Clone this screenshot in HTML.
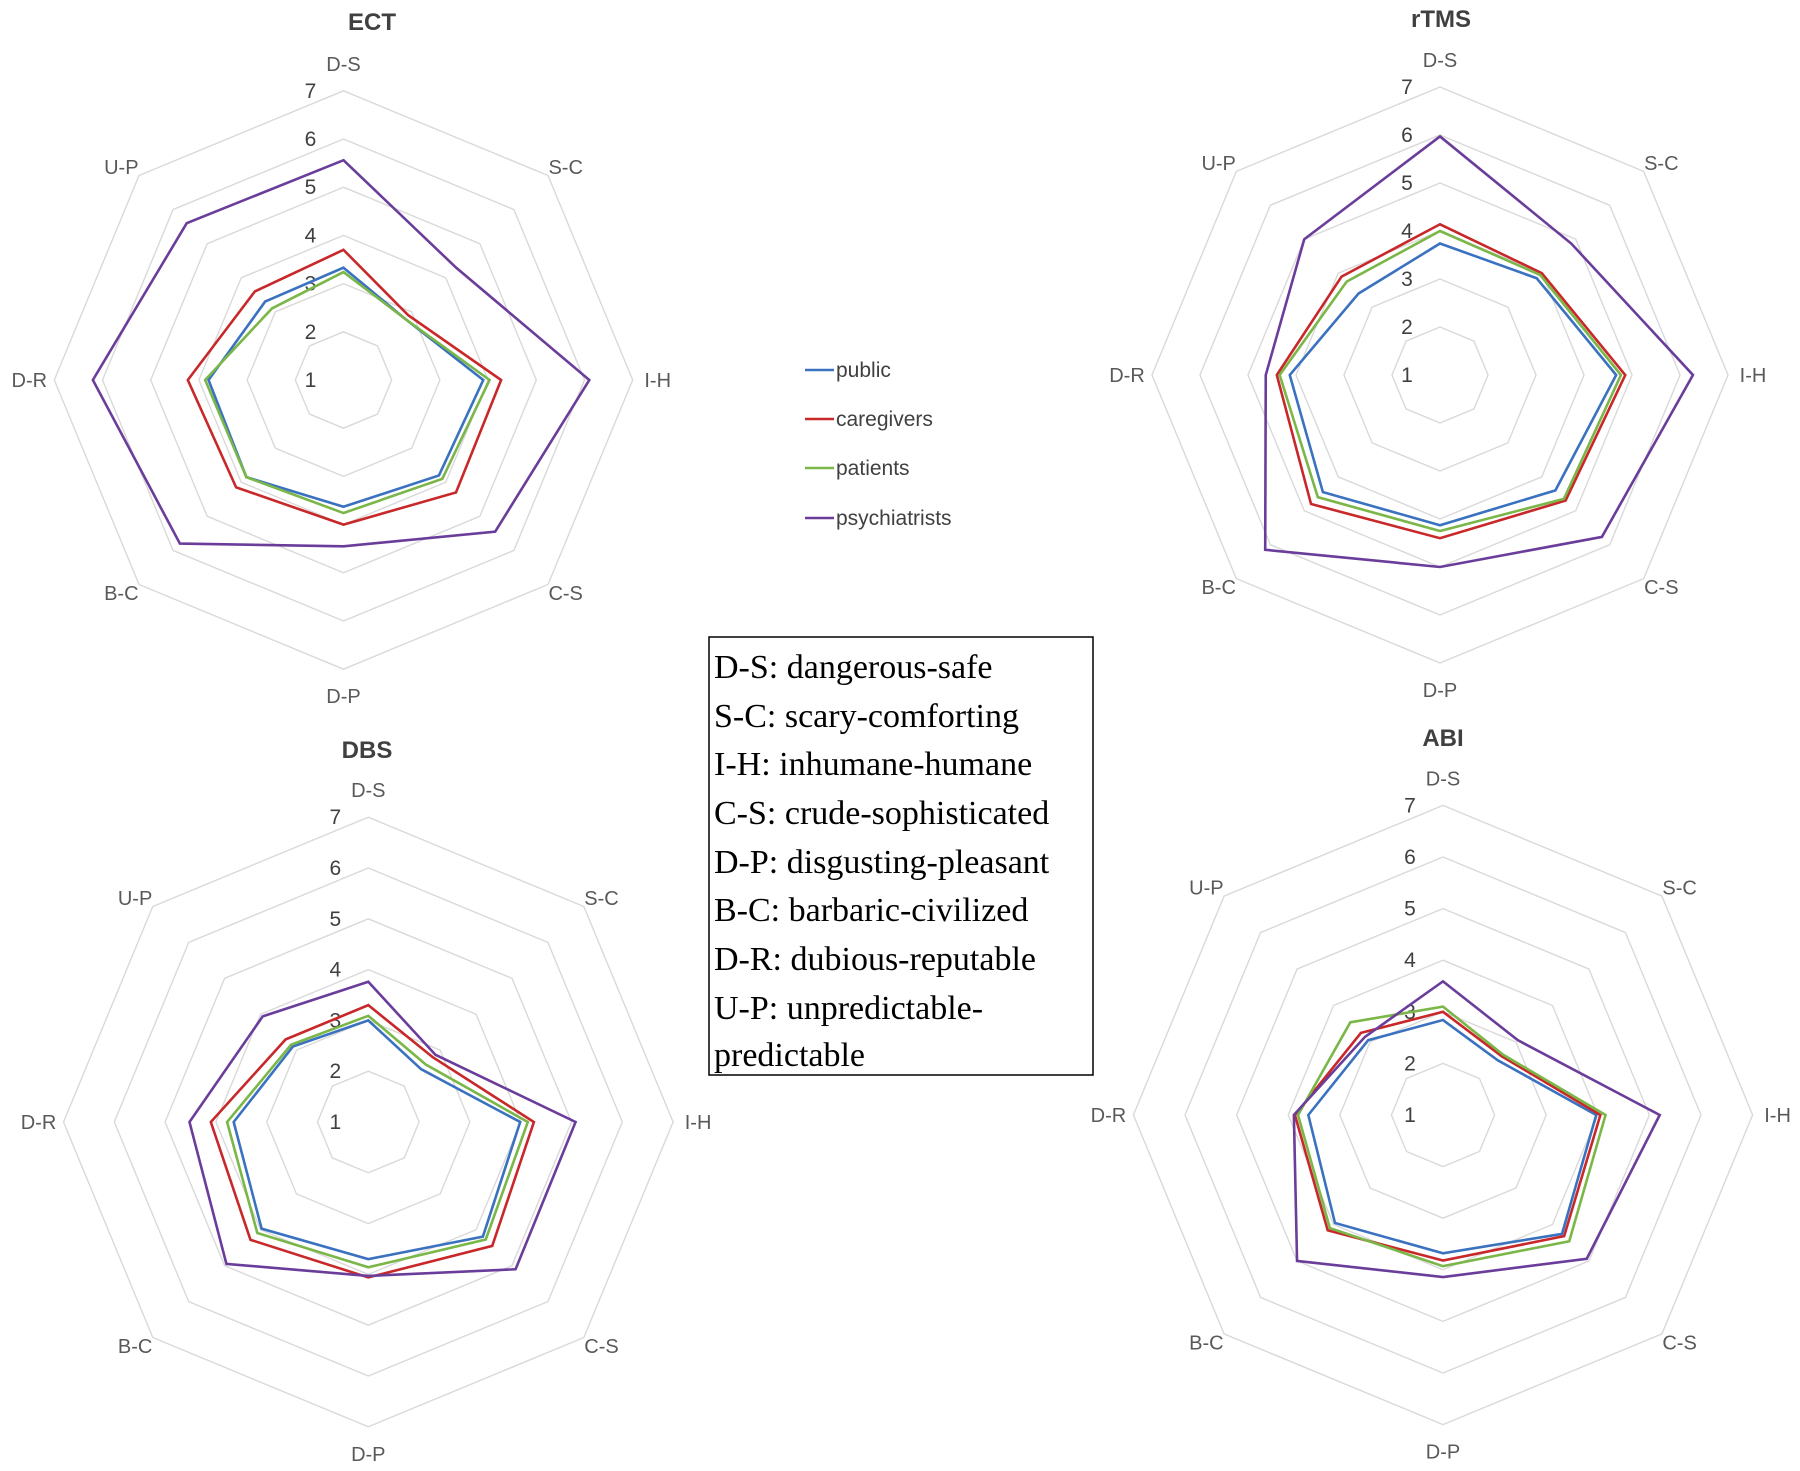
<!DOCTYPE html>
<html><head><meta charset="utf-8">
<style>
html,body{margin:0;padding:0;background:#fff;}
body{width:1800px;height:1471px;overflow:hidden;position:relative;font-family:"Liberation Sans",sans-serif;}
svg{position:absolute;left:0;top:0;}
</style></head>
<body>
<svg id="chart" width="1800" height="1471" viewBox="0 0 1800 1471" xmlns="http://www.w3.org/2000/svg">
  <g id="legend"></g>
  <g>
    <rect x="709" y="637" width="384" height="438" fill="#fff" stroke="#000" stroke-width="1.5"/>
    <g font-family="'Liberation Serif',serif" font-size="34" fill="#000">
      <text x="714" y="678">D-S: dangerous-safe</text>
      <text x="714" y="727">S-C: scary-comforting</text>
      <text x="714" y="775">I-H: inhumane-humane</text>
      <text x="714" y="824">C-S: crude-sophisticated</text>
      <text x="714" y="873">D-P: disgusting-pleasant</text>
      <text x="714" y="921">B-C: barbaric-civilized</text>
      <text x="714" y="970">D-R: dubious-reputable</text>
      <text x="714" y="1019">U-P: unpredictable-</text>
      <text x="714" y="1066">predictable</text>
    </g>
  </g>
</svg>
<script>
const axes = ["D-S","S-C","I-H","C-S","D-P","B-C","D-R","U-P"];
const tickLabels = ["1","2","3","4","5","6","7"];
const seriesNames = ["public","caregivers","patients","psychiatrists"];
const chartTitles = ["ECT","rTMS","DBS","ABI"];
// values per chart, per series (public, caregivers, patients, psychiatrists)
const ectPublic = [3.33,2.8,3.9,3.8,3.63,3.85,3.8,3.3];
const ectCaregivers = [3.7,2.9,4.27,4.3,4.0,4.15,4.23,3.6];
const ectPatients = [3.24,2.8,4.03,3.9,3.76,3.85,3.87,3.1];
const ectPsychiatrists = [5.56,4.3,6.1,5.45,4.45,5.8,6.2,5.6];
const rtmsPublic = [3.74,3.85,4.67,4.4,4.13,4.45,4.13,3.4];
const rtmsCaregivers = [4.14,4.0,4.86,4.7,4.4,4.8,4.4,3.9];
const rtmsPatients = [4.0,3.95,4.77,4.65,4.25,4.6,4.34,3.75];
const rtmsPsychiatrists = [5.97,4.87,6.27,5.77,5.0,6.15,4.63,5.0];
const dbsPublic = [3.0,2.47,3.99,4.19,3.7,3.97,3.65,3.1];
const dbsCaregivers = [3.3,2.8,4.26,4.45,4.06,4.28,4.1,3.3];
const dbsPatients = [3.09,2.6,4.14,4.27,3.86,4.09,3.78,3.15];
const dbsPsychiatrists = [3.76,2.87,5.08,5.1,4.03,4.95,4.52,3.94];
const abiPublic = [2.84,2.5,3.97,4.26,3.68,3.96,3.61,3.05];
const abiCaregivers = [3.0,2.61,4.05,4.32,3.82,4.16,3.87,3.25];
const abiPatients = [3.1,2.65,4.15,4.46,3.93,4.1,3.81,3.54];
const abiPsychiatrists = [3.59,3.05,5.2,4.94,4.14,5.0,3.89,3.14];

const allData = [
  [ectPublic,ectCaregivers,ectPatients,ectPsychiatrists],
  [rtmsPublic,rtmsCaregivers,rtmsPatients,rtmsPsychiatrists],
  [dbsPublic,dbsCaregivers,dbsPatients,dbsPsychiatrists],
  [abiPublic,abiCaregivers,abiPatients,abiPsychiatrists]
];
const layout = [
  {cx:343.5,cy:380,unit:48.2,tx:372,ty:30},
  {cx:1440,cy:375,unit:48,tx:1441,ty:27},
  {cx:368.3,cy:1122,unit:50.8,tx:367,ty:758},
  {cx:1443,cy:1115,unit:51.6,tx:1443,ty:746}
];
const colors = ["#3a72c0","#c8282a","#7ab648","#6a3d9a"];
const NS = "http://www.w3.org/2000/svg";
const svg = document.getElementById("chart");
function mk(tag, attrs, parent){const e=document.createElementNS(NS,tag);for(const k in attrs)e.setAttribute(k,attrs[k]);parent.appendChild(e);return e;}

layout.forEach((L,ci)=>{
  const slug = chartTitles[ci].toLowerCase();
  const g = mk("g",{},svg);
  
  
  const rScale = v => (v-1)*L.unit;
  const pt = (i,v) => {const a=i*Math.PI/4;const r=rScale(v);return [L.cx+Math.sin(a)*r, L.cy-Math.cos(a)*r];};
  for(let t=2;t<=7;t++){
    const pts=axes.map((_,i)=>pt(i,t).join(",")).join(" ");
    const ring=mk("polygon",{points:pts,fill:"none",stroke:"#d9d9d9","stroke-width":1.4},g);
    
    
  }
  tickLabels.forEach((lab,k)=>{
    const v=k+1;
    const y=L.cy-rScale(v);
    const t=mk("text",{x:L.cx-33,y:y+7,"font-size":21,fill:"#404040","text-anchor":"middle"},g);
    t.textContent=lab;
    
    
  });
  const R7=rScale(7);
  axes.forEach((ax,i)=>{
    const a=i*Math.PI/4;
    const s=Math.sin(a), c=Math.cos(a);
    const diag = Math.abs(s)>0.1 && Math.abs(c)>0.1;
    let x=L.cx+s*(R7+25);
    let y=L.cy-c*(diag?(R7+12):(R7+27))+7;
    const t=mk("text",{x:x,y:y,"font-size":20,fill:"#595959","text-anchor":"middle"},g);
    t.textContent=ax;
    
    
  });
  allData[ci].forEach((vals,si)=>{
    const pts=vals.map((v,i)=>pt(i,v).join(",")).join(" ");
    const p=mk("polygon",{points:pts,fill:"none",stroke:colors[si],"stroke-width":2.6,"stroke-linejoin":"miter"},g);
    
    
  });
  const tt=mk("text",{x:L.tx,y:L.ty,"font-size":24,"font-weight":"bold",fill:"#404040","text-anchor":"middle"},g);
  tt.textContent=chartTitles[ci];
  
  
});

const leg=document.getElementById("legend");
const legY=[370,419,468,518];
seriesNames.forEach((n,i)=>{
  const eg=mk("g",{},leg);
  
  
  mk("line",{x1:805,y1:legY[i],x2:834,y2:legY[i],stroke:colors[i],"stroke-width":2.6},eg);
  const t=mk("text",{x:836,y:legY[i]+7,"font-size":21,fill:"#404040"},eg);
  t.textContent=n;
});
</script>
</body></html>
